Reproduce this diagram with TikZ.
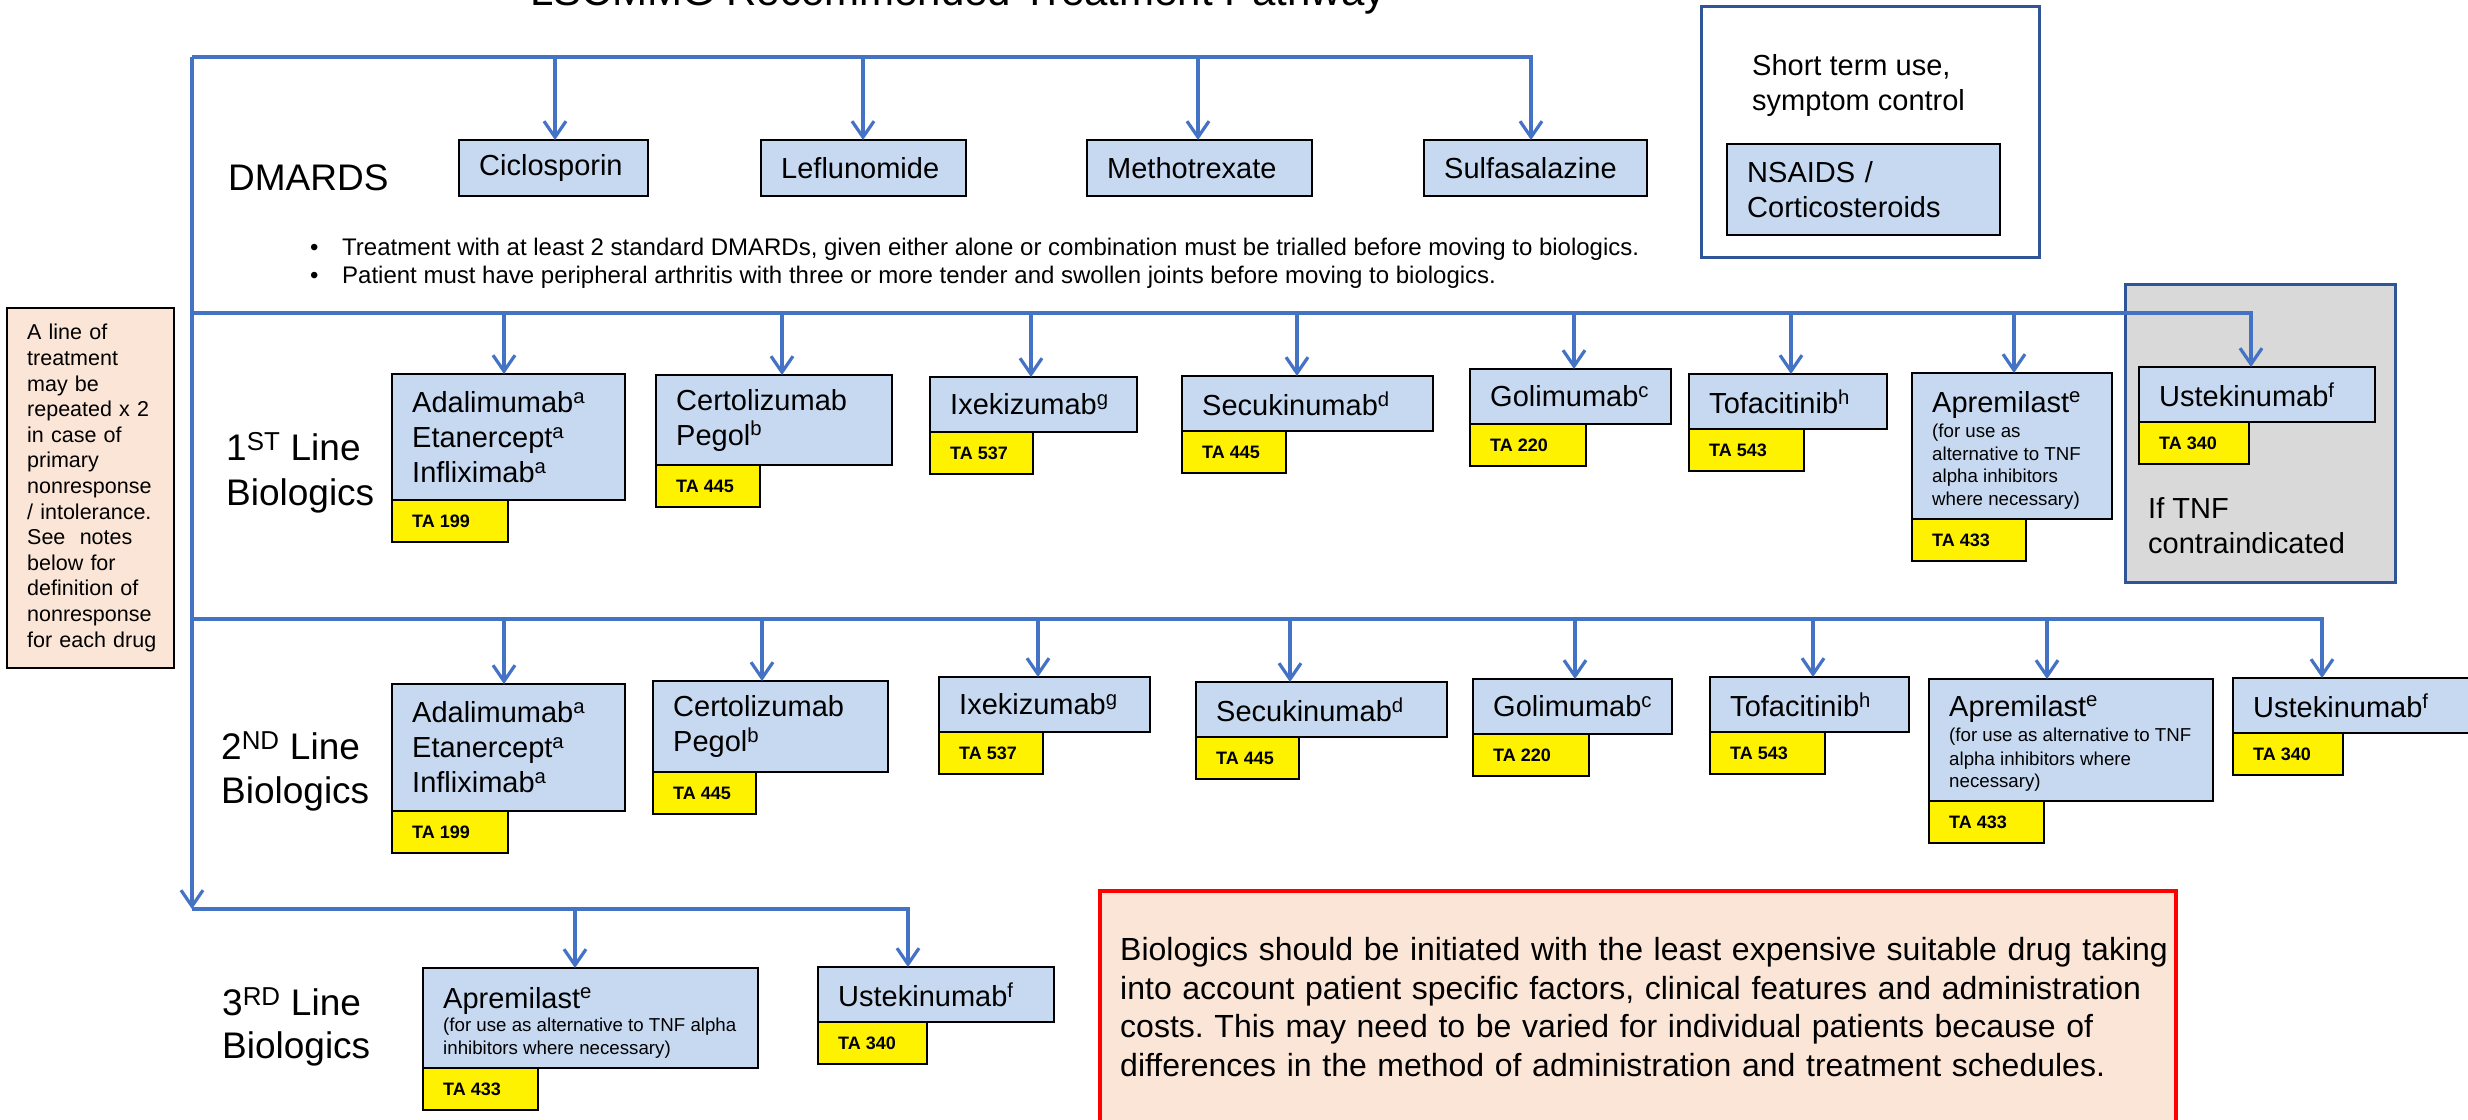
\documentclass[tikz,border=0pt]{standalone}
\usepackage{fontspec}
\setmainfont{Liberation Sans}
\usetikzlibrary{arrows.meta}
\definecolor{lblue}{HTML}{4472C4}
\definecolor{boxblue}{HTML}{C6D9F1}
\definecolor{peach}{HTML}{FBE5D6}
\definecolor{greyf}{HTML}{D9D9D9}
\definecolor{dkblue}{HTML}{2F5597}
\frenchspacing
\newcommand\drugbox[6]{%
  \node[bx, minimum width=#4pt, minimum height=#5pt] (#1) at (#2,#3) {};
  \node[btxt] (#1t) at ([xshift=20pt]#1.west) {#6};}
\newcommand\tabox[4]{%
  \node[tab, minimum width=#3pt] (#1) at (#2.south west) {};
  \node[tatxt] (#1t) at ([xshift=20pt]#1.west) {#4};}
\newcommand\arrto[3]{\draw[arr] ([xshift=#3pt]#2.north |- #1) -- ([xshift=#3pt]#2.north);}
\begin{document}
\begin{tikzpicture}[x=1pt,y=-1pt,
 bx/.style={draw=black, line width=2.5pt, fill=boxblue, anchor=north west, inner sep=0pt, outer sep=0pt},
 tab/.style={draw=black, line width=2.5pt, fill=yellow, anchor=north west, minimum height=42pt, inner sep=0pt, outer sep=0pt},
 btxt/.style={inner sep=0pt, anchor=west, align=left, text width=700pt, font=\fontsize{29}{35}\selectfont},
 tatxt/.style={inner sep=0pt, anchor=west, font=\bfseries\fontsize{18}{21}\selectfont},
 rowlab/.style={inner sep=0pt, anchor=base west, font=\fontsize{37}{44}\selectfont},
 plaintxt/.style={inner sep=0pt, anchor=base west, font=\fontsize{29}{35}\selectfont},
 smalltxt/.style={inner sep=0pt, anchor=base west, font=\fontsize{18.7}{22}\selectfont},
 bultxt/.style={inner sep=0pt, anchor=base west, font=\fontsize{24}{28}\selectfont},
 arr/.style={draw=lblue, line width=3.2pt, -{Straight Barb[length=16pt,width=22pt]}},
 dkframe/.style={draw=dkblue, line width=3pt, anchor=north west, inner sep=0pt, outer sep=0pt},
 titletxt/.style={inner sep=0pt, anchor=base, font=\fontsize{42}{50}\selectfont}
]
\useasboundingbox[fill=white] (0,0) rectangle (2468,1119);

% title (cut by top edge)
\node[titletxt] (ttl) at (958,5) {LSCMMG Recommended Treatment Pathway};

% DMARDS row
\node[rowlab] (dmlab) at (228,190) {DMARDS};
\drugbox{cic}{459}{140}{189}{56}{Ciclosporin}
\drugbox{lef}{761}{140}{205}{56}{Leflunomide}
\drugbox{met}{1087}{140}{225}{56}{Methotrexate}
\drugbox{sul}{1424}{140}{223}{56}{Sulfasalazine}

\node[bultxt] (b1) at (310,255) {\makebox[32pt][l]{•}Treatment with at least 2 standard DMARDs, given either alone or combination must be trialled before moving to biologics.};
\node[bultxt] (b2) at (310,283) {\makebox[32pt][l]{•}Patient must have peripheral arthritis with three or more tender and swollen joints before moving to biologics.};

% short term box
\node[dkframe, fill=white, minimum width=338pt, minimum height=251pt] (stbox) at (1701,6) {};
\node[plaintxt] (st1) at (1752,75) {Short term use,};
\node[plaintxt] (st2) at (1752,110) {symptom control};
\drugbox{nsa}{1727}{144}{273}{91}{NSAIDS /\\Corticosteroids}

% note box
\node[bx, fill=peach, minimum width=167pt, minimum height=360pt] (note) at (7,308) {};
\node[btxt, font=\fontsize{21.5}{25.6}\selectfont] (notet) at ([xshift=20pt]note.west) {A line of\\treatment\\may be\\repeated x 2\\in case of\\primary\\nonresponse\\/ intolerance.\\See~ notes\\below for\\definition of\\nonresponse\\for each drug};

% grey box
\node[dkframe, fill=greyf, minimum width=270pt, minimum height=298pt] (gbox) at (2125,284) {};

% 1st line
\node[rowlab] (l1a) at (226,460) {1\textsuperscript{ST} Line};
\node[rowlab] (l1b) at (226,505) {Biologics};
\drugbox{a1}{392}{374}{233}{126}{Adalimumab\textsuperscript{a}\\Etanercept\textsuperscript{a}\\Infliximab\textsuperscript{a}}
\tabox{a1ta}{a1}{116}{TA 199}
\drugbox{c1}{656}{375}{236}{90}{Certolizumab\\Pegol\textsuperscript{b}}
\tabox{c1ta}{c1}{104}{TA 445}
\drugbox{i1}{930}{377}{207}{55}{Ixekizumab\textsuperscript{g}}
\tabox{i1ta}{i1}{103}{TA 537}
\drugbox{s1}{1182}{376}{251}{55}{Secukinumab\textsuperscript{d}}
\tabox{s1ta}{s1}{104}{TA 445}
\drugbox{g1}{1470}{369}{201}{55}{Golimumab\textsuperscript{c}}
\tabox{g1ta}{g1}{116}{TA 220}
\drugbox{t1}{1689}{374}{198}{55}{Tofacitinib\textsuperscript{h}}
\tabox{t1ta}{t1}{115}{TA 543}
\node[bx, minimum width=200pt, minimum height=146pt] (p1) at (1912,373) {};
\node[plaintxt] (p1a) at (1932,412) {Apremilast\textsuperscript{e}};
\node[smalltxt] (p1b) at (1932,437) {(for use as};
\node[smalltxt] (p1c) at (1932,460) {alternative to TNF};
\node[smalltxt] (p1d) at (1932,482) {alpha inhibitors};
\node[smalltxt] (p1e) at (1932,505) {where necessary)};
\tabox{p1ta}{p1}{114}{TA 433}
\drugbox{u1}{2139}{367}{236}{55}{Ustekinumab\textsuperscript{f}}
\tabox{u1ta}{u1}{110}{TA 340}
\node[plaintxt] (tnf1) at (2148,518) {If TNF};
\node[plaintxt] (tnf2) at (2148,553) {contraindicated};

% 2nd line
\node[rowlab] (l2a) at (221,759) {2\textsuperscript{ND} Line};
\node[rowlab] (l2b) at (221,803) {Biologics};
\drugbox{a2}{392}{684}{233}{127}{Adalimumab\textsuperscript{a}\\Etanercept\textsuperscript{a}\\Infliximab\textsuperscript{a}}
\tabox{a2ta}{a2}{116}{TA 199}
\drugbox{c2}{653}{681}{235}{91}{Certolizumab\\Pegol\textsuperscript{b}}
\tabox{c2ta}{c2}{103}{TA 445}
\drugbox{i2}{939}{677}{211}{55}{Ixekizumab\textsuperscript{g}}
\tabox{i2ta}{i2}{104}{TA 537}
\drugbox{s2}{1196}{682}{251}{55}{Secukinumab\textsuperscript{d}}
\tabox{s2ta}{s2}{103}{TA 445}
\drugbox{g2}{1473}{679}{199}{55}{Golimumab\textsuperscript{c}}
\tabox{g2ta}{g2}{116}{TA 220}
\drugbox{t2}{1710}{677}{199}{55}{Tofacitinib\textsuperscript{h}}
\tabox{t2ta}{t2}{115}{TA 543}
\node[bx, minimum width=284pt, minimum height=122pt] (p2) at (1929,679) {};
\node[plaintxt] (p2a) at (1949,716) {Apremilast\textsuperscript{e}};
\node[smalltxt] (p2b) at (1949,741) {(for use as alternative to TNF};
\node[smalltxt] (p2c) at (1949,765) {alpha inhibitors where};
\node[smalltxt] (p2d) at (1949,787) {necessary)};
\tabox{p2ta}{p2}{115}{TA 433}
\drugbox{u2}{2233}{678}{260}{55}{Ustekinumab\textsuperscript{f}}
\tabox{u2ta}{u2}{110}{TA 340}

% 3rd line
\node[rowlab] (l3a) at (222,1015) {3\textsuperscript{RD} Line};
\node[rowlab] (l3b) at (222,1058) {Biologics};
\node[bx, minimum width=335pt, minimum height=100pt] (p3) at (423,968) {};
\node[plaintxt] (p3a) at (443,1008) {Apremilast\textsuperscript{e}};
\node[smalltxt] (p3b) at (443,1031) {(for use as alternative to TNF alpha};
\node[smalltxt] (p3c) at (443,1054) {inhibitors where necessary)};
\tabox{p3ta}{p3}{115}{TA 433}
\drugbox{u3}{818}{967}{236}{55}{Ustekinumab\textsuperscript{f}}
\tabox{u3ta}{u3}{109}{TA 340}

% red note
\node[bx, fill=peach, draw=red, line width=4pt, minimum width=1076pt, minimum height=232pt] (redbox) at (1100,891) {};
\node[btxt, text width=1300pt, font=\fontsize{32}{38.5}\selectfont] (redt) at ([xshift=20pt]redbox.west) {Biologics should be initiated with the least expensive suitable drug taking\\into account patient specific factors, clinical features and administration\\costs. This may need to be varied for individual patients because of\\differences in the method of administration and treatment schedules.};

% connectors
\coordinate (top) at (192,57);
\coordinate (r1) at (192,313);
\coordinate (r2) at (192,619);
\coordinate (r3) at (192,909);
\draw[arr] (top) -- (r3);
\draw[arr] (top) -- ([xshift=-4.5pt]sul.north |- top) -- ([xshift=-4.5pt]sul.north);
\arrto{top}{cic}{1.5}
\arrto{top}{lef}{-0.5}
\arrto{top}{met}{-1.5}
\draw[arr] (r1) -- ([xshift=-6pt]u1.north |- r1) -- ([xshift=-6pt]u1.north);
\arrto{r1}{a1}{-4.5}
\arrto{r1}{c1}{8}
\arrto{r1}{i1}{-2.5}
\arrto{r1}{s1}{-10.5}
\arrto{r1}{g1}{3.5}
\arrto{r1}{t1}{3}
\arrto{r1}{p1}{2}
\draw[arr] (r2) -- ([xshift=-41pt]u2.north |- r2) -- ([xshift=-41pt]u2.north);
\arrto{r2}{a2}{-4.5}
\arrto{r2}{c2}{-8.5}
\arrto{r2}{i2}{-6.5}
\arrto{r2}{s2}{-31.5}
\arrto{r2}{g2}{2.5}
\arrto{r2}{t2}{3.5}
\arrto{r2}{p2}{-24}
\draw[arr] (r3) -- ([xshift=-28pt]u3.north |- r3) -- ([xshift=-28pt]u3.north);
\arrto{r3}{p3}{-15.5}
\end{tikzpicture}
\end{document}
